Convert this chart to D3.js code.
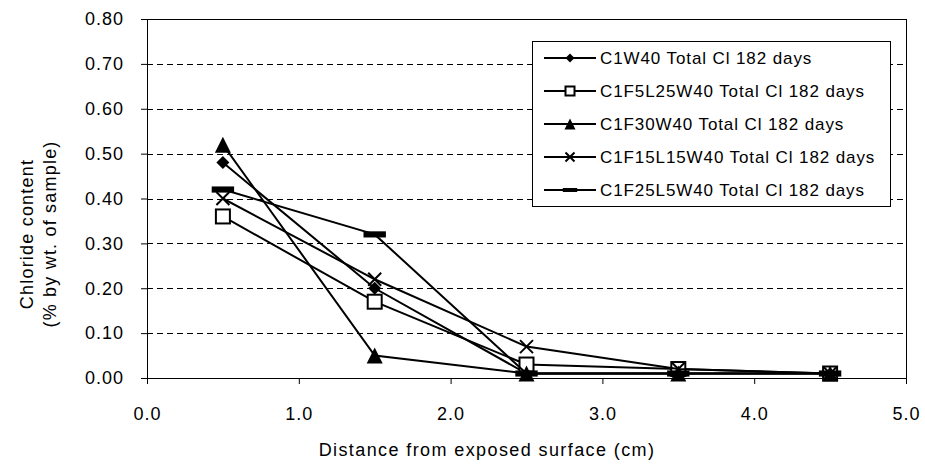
<!DOCTYPE html>
<html>
<head>
<meta charset="utf-8">
<script src="https://cdn.jsdelivr.net/npm/d3@7"></script>
<style>
  body { margin: 0; background: #fff; }
  svg text { font-family: "Liberation Sans", Arial, sans-serif; fill: #000; }
</style>
</head>
<body>
<svg id="chart" width="925" height="469"></svg>
<script>
// distances (cm) where samples were taken
const depths = [0.5, 1.5, 2.5, 3.5, 4.5];

const c1w40 = [0.48, 0.20, 0.01, 0.01, 0.01];
const c1f5l25w40 = [0.36, 0.17, 0.03, 0.02, 0.01];
const c1f30w40 = [0.52, 0.05, 0.01, 0.01, 0.01];
const c1f15l15w40 = [0.40, 0.22, 0.07, 0.02, 0.01];
const c1f25l5w40 = [0.42, 0.32, 0.01, 0.01, 0.01];

const seriesNames = [
  'C1W40 Total Cl 182 days',
  'C1F5L25W40 Total Cl 182 days',
  'C1F30W40 Total Cl 182 days',
  'C1F15L15W40 Total Cl 182 days',
  'C1F25L5W40 Total Cl 182 days'
];
const markerKinds = ['diamond', 'square', 'triangle', 'cross', 'dash'];

const xTicks = [0, 1, 2, 3, 4, 5];
const yTicks = [0, 0.1, 0.2, 0.3, 0.4, 0.5, 0.6, 0.7, 0.8];

const series = [c1w40, c1f5l25w40, c1f30w40, c1f15l15w40, c1f25l5w40].map((vals, i) => ({
  name: seriesNames[i],
  kind: markerKinds[i],
  points: vals.map((v, j) => ({ x: depths[j], y: v }))
}));

const margin = { top: 19, right: 19, bottom: 91, left: 147 };
const width = 925 - margin.left - margin.right;
const height = 469 - margin.top - margin.bottom;

const svg = d3.select('#chart');
const g = svg.append('g').attr('transform', `translate(${margin.left},${margin.top})`);

const x = d3.scaleLinear().domain([0, 5]).range([0, width]);
const y = d3.scaleLinear().domain([0, 0.8]).range([height, 0]);

// dashed gridlines
g.append('g')
  .selectAll('line')
  .data(yTicks.filter(t => t > 0 && t < 0.8))
  .join('line')
  .attr('x1', 0)
  .attr('x2', width)
  .attr('y1', d => Math.round(y(d)) + 0.5)
  .attr('y2', d => Math.round(y(d)) + 0.5)
  .attr('stroke', '#000')
  .attr('stroke-dasharray', '6,4');

// frame (top & right)
g.append('rect')
  .attr('x', 0.5)
  .attr('y', 0.5)
  .attr('width', width)
  .attr('height', height)
  .attr('fill', 'none')
  .attr('stroke', '#000');

const fontSize = 18;

const yAxis = g.append('g')
  .call(d3.axisLeft(y).tickValues(yTicks).tickFormat(d3.format('.2f')).tickSize(6).tickPadding(17));
yAxis.select('.domain').attr('stroke', '#000');
yAxis.selectAll('.tick line').attr('stroke', '#000');
yAxis.selectAll('text')
  .style('font-size', fontSize + 'px')
  .style('letter-spacing', '1px')
  .attr('font-family', null);

const xAxis = g.append('g')
  .attr('transform', `translate(0,${height})`)
  .call(d3.axisBottom(x).tickValues(xTicks).tickFormat(d3.format('.1f')).tickSize(6).tickPadding(23));
xAxis.select('.domain').attr('stroke', '#000');
xAxis.selectAll('.tick line').attr('stroke', '#000');
xAxis.selectAll('text')
  .style('font-size', fontSize + 'px')
  .style('letter-spacing', '1px')
  .attr('font-family', null);

// axis titles
svg.append('text')
  .attr('x', 487)
  .attr('y', 456)
  .attr('text-anchor', 'middle')
  .style('font-size', fontSize + 'px')
  .style('letter-spacing', '1.4px')
  .text('Distance from exposed surface (cm)');

const yTitle = svg.append('text')
  .attr('transform', 'translate(0,234) rotate(-90)')
  .attr('text-anchor', 'middle')
  .style('font-size', fontSize + 'px')
  .style('letter-spacing', '1.2px');
yTitle.append('tspan').attr('x', 0).attr('y', 33).text('Chloride content');
yTitle.append('tspan').attr('x', 0).attr('y', 56).text('(% by wt. of sample)');

function drawMarker(sel, kind, s) {
  if (kind === 'diamond') {
    sel.append('path')
      .attr('d', `M0,${-s / 2}L${s / 2},0L0,${s / 2}L${-s / 2},0Z`)
      .attr('fill', '#000');
  } else if (kind === 'square') {
    sel.append('rect')
      .attr('x', -s / 2).attr('y', -s / 2)
      .attr('width', s).attr('height', s)
      .attr('fill', '#fff').attr('stroke', '#000').attr('stroke-width', 2);
  } else if (kind === 'triangle') {
    sel.append('path')
      .attr('d', `M0,${-s / 2}L${s / 2},${s / 2}L${-s / 2},${s / 2}Z`)
      .attr('fill', '#000');
  } else if (kind === 'cross') {
    const h = s / 2;
    sel.append('path')
      .attr('d', `M${-h},${-h}L${h},${h}M${-h},${h}L${h},${-h}`)
      .attr('stroke', '#000').attr('stroke-width', 2).attr('fill', 'none');
  } else if (kind === 'dash') {
    sel.append('rect')
      .attr('x', -s * 0.8).attr('y', -s * 0.22)
      .attr('width', s * 1.6).attr('height', s * 0.44)
      .attr('fill', '#000');
  }
}

const plotSize = { diamond: 13, square: 14, triangle: 16, cross: 13, dash: 14 };
const legendSize = { diamond: 9, square: 9, triangle: 11, cross: 9, dash: 9 };

const line = d3.line().x(d => x(d.x)).y(d => y(d.y));

const sg = g.selectAll('.series')
  .data(series)
  .join('g')
  .attr('class', 'series');

sg.append('path')
  .attr('d', d => line(d.points))
  .attr('fill', 'none')
  .attr('stroke', '#000')
  .attr('stroke-width', 2);

sg.each(function(d) {
  d3.select(this).selectAll('.mk')
    .data(d.points)
    .join('g')
    .attr('class', 'mk')
    .attr('transform', p => `translate(${x(p.x)},${y(p.y)})`)
    .each(function() { drawMarker(d3.select(this), d.kind, plotSize[d.kind]); });
});

// legend
const legend = svg.append('g').attr('transform', 'translate(532,41)');
legend.append('rect')
  .attr('x', 0.5).attr('y', 0.5)
  .attr('width', 358).attr('height', 165)
  .attr('fill', '#fff').attr('stroke', '#000');

const rows = legend.selectAll('.row')
  .data(series)
  .join('g')
  .attr('class', 'row')
  .attr('transform', (d, i) => `translate(0,${17 + i * 33})`);

rows.append('line')
  .attr('x1', 12).attr('x2', 64)
  .attr('stroke', '#000').attr('stroke-width', 2);

rows.append('g')
  .attr('transform', 'translate(38,0)')
  .each(function(d) { drawMarker(d3.select(this), d.kind, legendSize[d.kind]); });

rows.append('text')
  .attr('x', 68)
  .attr('y', 6)
  .style('font-size', '17px')
  .style('letter-spacing', '0.9px')
  .text(d => d.name);
</script>
</body>
</html>
